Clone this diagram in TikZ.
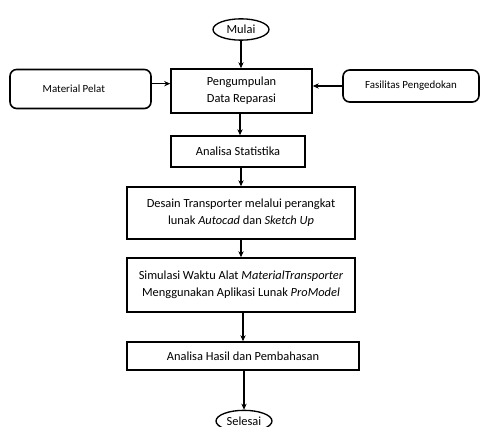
\documentclass[tikz,border=0pt]{standalone}
\usepackage{fontspec}
\setmainfont{Carlito}
\usetikzlibrary{shapes.geometric,arrows.meta}
\tikzset{
% Three node styles for the flowchart: terminal, process and input
terminal node/.style={ellipse,draw,line width=1pt,inner sep=0,minimum width=42pt,minimum height=16pt},
process node/.style={rectangle,draw,line width=1.2pt,align=center,inner sep=2pt},
input node/.style={rectangle,rounded corners=5pt,draw,line width=1.2pt,align=center,inner sep=2pt,font=\fontsize{8.2}{10}\selectfont},
flow/.style={line width=0.9pt,-{Stealth[length=4.5pt,width=4pt]}}
}

\begin{document}
\begin{tikzpicture}[x=0.75pt,y=-0.75pt,font=\fontsize{9.3}{12.5}\selectfont]
\useasboundingbox (0,0) rectangle (481,427);
% Start and end
\node(mulai)[terminal node] at (241,29.5){Mulai};
\node(selesai)[terminal node] at (244,421){Selesai};
% Main chain
\node(data)[process node,minimum width=105.75pt,minimum height=33pt] at (241.5,91){Pengumpulan\\ Data Reparasi};
\node(stat)[process node,minimum width=100.5pt,minimum height=23.25pt] at (238,151.5){Analisa Statistika};
\node(desain)[process node,minimum width=171pt,minimum height=39pt] at (241,213){Desain Transporter melalui perangkat\\ lunak \textit{Autocad} dan \textit{Sketch Up}};
\node(simulasi)[process node,minimum width=171pt,minimum height=40.5pt] at (241,285){Simulasi Waktu Alat \textit{MaterialTransporter}\\ Menggunakan Aplikasi Lunak \textit{ProModel}};
\node(hasil)[process node,minimum width=174pt,minimum height=21pt] at (243,356){Analisa Hasil dan Pembahasan};
% Inputs at the sides
\node(pelat)[input node,minimum width=105.75pt,minimum height=29.25pt] at (80.5,89){Material Pelat\hspace{10pt}};
\node(dok)[input node,minimum width=102pt,minimum height=24pt] at (411,86){Fasilitas Pengedokan};
% Arrows
\draw[flow] (mulai) -- (mulai |- data.north);
\draw[flow] (data.south -| 240,0) -- (stat.north -| 240,0);
\draw[flow] (stat.south -| 241,0) -- (desain.north -| 241,0);
\draw[flow] (desain.south -| 241,0) -- (simulasi.north -| 241,0);
\draw[flow] (simulasi.south -| 243,0) -- (hasil.north -| 243,0);
\draw[flow] (hasil.south -| 244,0) -- (selesai.north);
\draw[flow] ([yshift=4pt]pelat.east) -- ([yshift=4pt]pelat.east -| data.west);
\draw[flow] (dok.west) -- (dok.west -| data.east);
\end{tikzpicture}
\end{document}
